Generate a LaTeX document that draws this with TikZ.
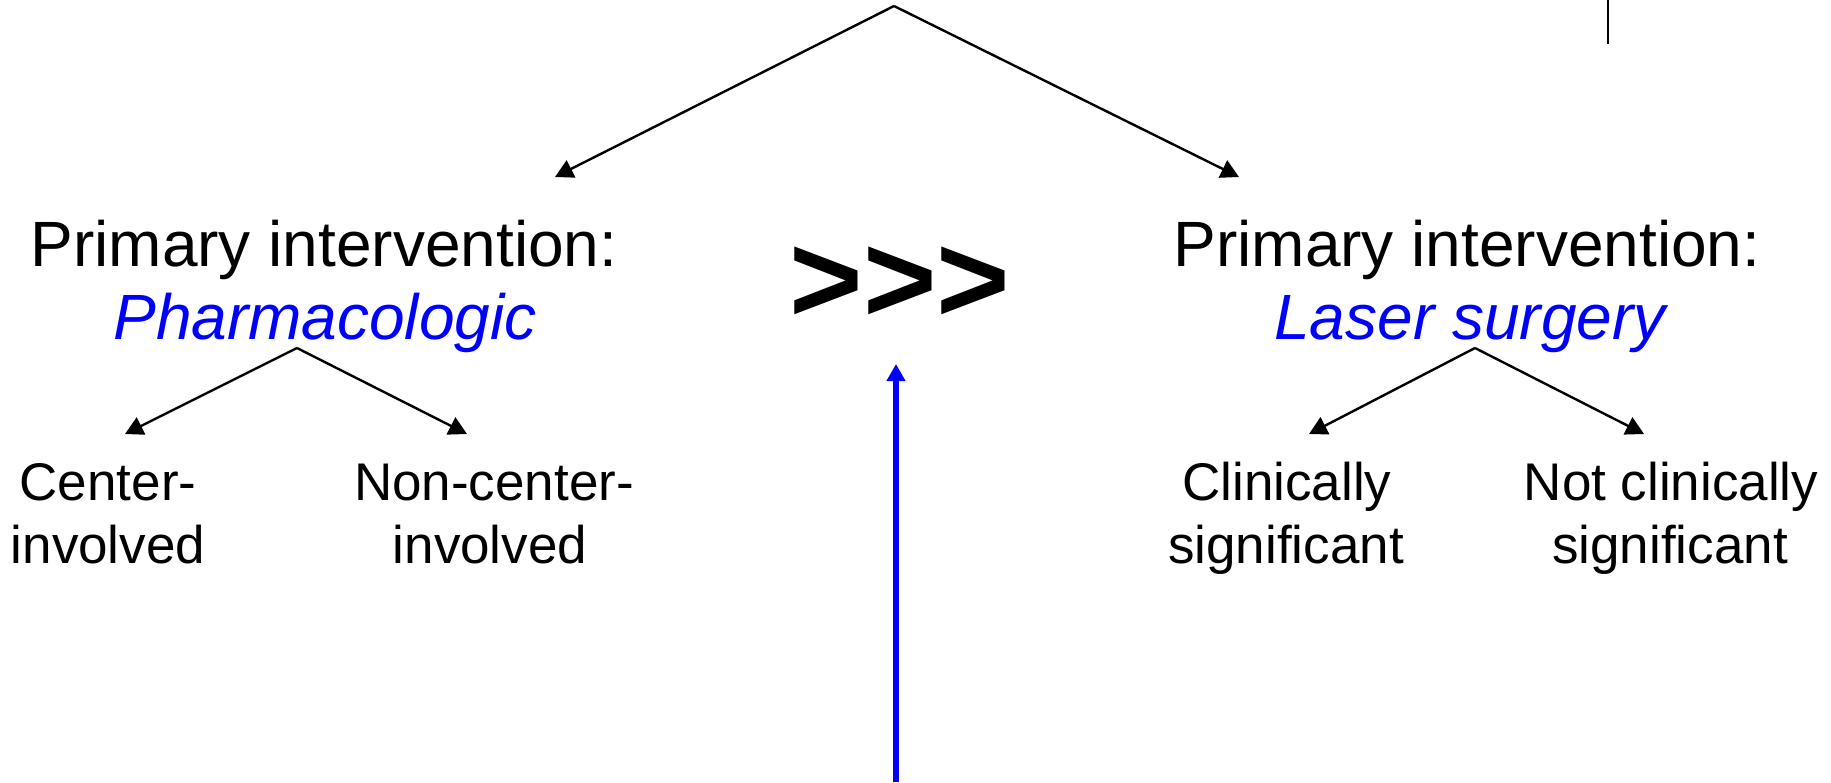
\documentclass[tikz,border=0pt]{standalone}
\usepackage{fontspec}
\setmainfont{Liberation Sans}
\usetikzlibrary{arrows.meta}
\begin{document}
\begin{tikzpicture}[x=0.5pt,y=-0.5pt,
  mainlbl/.style={anchor=base,inner sep=0pt,font=\fontsize{32pt}{36pt}\selectfont},
  altlbl/.style={mainlbl,text=blue,font=\fontsize{32pt}{36pt}\selectfont\itshape},
  sublbl/.style={anchor=base,inner sep=0pt,font=\fontsize{26.5pt}{30pt}\selectfont},
  branch/.style={draw=black,line width=1.2pt,-{Triangle[width=9.5pt,length=9pt]}},
  bluearrow/.style={draw=blue,line width=2.6pt,-{Triangle[width=9pt,length=8.5pt]}}]
\useasboundingbox (0,0) rectangle (1831,782);
% top tree
\coordinate (apex) at (894,6);
\coordinate (tipL) at (555,177);
\coordinate (tipR) at (1239,177);
\draw[branch] (apex) -- (tipL);
\draw[branch] (apex) -- (tipR);
% small vertical line top right
\coordinate (vtop) at (1608,0);
\coordinate (vbot) at (1608,44);
\draw[line width=1.2pt] (vtop) -- (vbot);
% left main labels
\node[mainlbl] (pL1) at (324,266) {Primary intervention:};
\node[altlbl] (pL2) at (325,339) {Pharmacologic};
% right main labels
\node[mainlbl] (pR1) at (1467,266) {Primary intervention:};
\node[altlbl] (pR2) at (1470,339) {Laser surgery};
% comparison
\node[anchor=base,inner sep=0pt,font=\fontsize{63pt}{70pt}\selectfont\bfseries] (cmp) at (900,322) {>\kern0pt>\kern0pt>};
% left subtree
\coordinate (sL) at (297,348);
\coordinate (sLa) at (125,434);
\coordinate (sLb) at (467,434);
\draw[branch] (sL) -- (sLa);
\draw[branch] (sL) -- (sLb);
\node[sublbl] (cA1) at (108,500) {Center-};
\node[sublbl] (cA2) at (108,563) {involved};
\node[sublbl] (cB1) at (494,500) {Non-center-};
\node[sublbl] (cB2) at (490,563) {involved};
% right subtree
\coordinate (sR) at (1475,348);
\coordinate (sRa) at (1309,434);
\coordinate (sRb) at (1644,434);
\draw[branch] (sR) -- (sRa);
\draw[branch] (sR) -- (sRb);
\node[sublbl] (cC1) at (1287,500) {Clinically};
\node[sublbl] (cC2) at (1286,563) {significant};
\node[sublbl] (cD1) at (1671,500) {Not clinically};
\node[sublbl] (cD2) at (1670,563) {significant};
% blue arrow
\coordinate (bbot) at (896,782);
\coordinate (btip) at (896,364);
\draw[bluearrow] (bbot) -- (btip);
\end{tikzpicture}
\end{document}
